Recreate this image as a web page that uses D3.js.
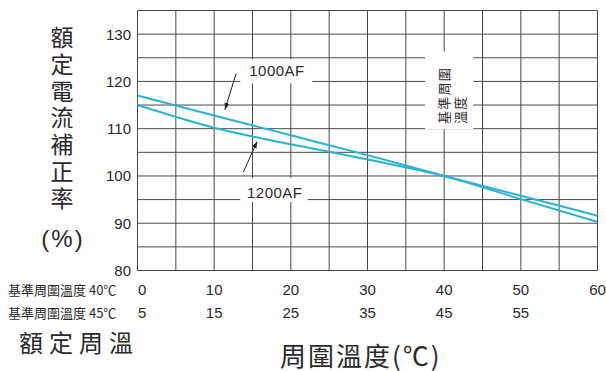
<!DOCTYPE html>
<html>
<head>
<meta charset="utf-8">
<script src="https://cdn.jsdelivr.net/npm/d3@7"></script>
<style>
  html, body { margin: 0; padding: 0; background: #fff; }
  svg { display: block; }
  text { font-family: "Liberation Sans", Arial, "Noto Sans CJK TC", sans-serif; fill: #2a2a2a; }
  .cjk { font-family: "Noto Sans CJK TC", "Noto Sans CJK SC", sans-serif; }
</style>
</head>
<body>
<svg id="chart" width="606" height="371"></svg>
<script>
// Ambient temperature (°C, referenced to 40°C) and correction factors (%)
const temps = [0, 10, 20, 30, 40, 50, 60];
const af1000 = [117, 112.8, 108.6, 104.4, 100, 95.8, 91.6];
const af1200 = [115, 110.2, 106.7, 103.5, 100, 95.1, 90.3];

const yTicks = [80, 90, 100, 110, 120, 130];
const xTicks40 = [0, 10, 20, 30, 40, 50, 60];
const xTicks45 = [5, 15, 25, 35, 45, 55];
const gridStep = 5;

const yTitle = "額定電流補正率";
const yUnit = "(%)";
const row40Label = "基準周圍溫度 40℃";
const row45Label = "基準周圍溫度 45℃";
const ratedLabel = "額定周溫";
const xTitle = "周圍溫度(℃)";
const refLines = ["基準周圍", "溫度"];

const svg = d3.select("#chart");

const x = d3.scaleLinear().domain([0, 60]).range([137.5, 597.5]);
const y = d3.scaleLinear().domain([80, 135]).range([270.5, 10.5]);

// Grid
const grid = svg.append("g").attr("stroke", "#4a4a4a").attr("stroke-width", 1);
grid.selectAll("line.v").data(d3.range(0, 60 + 0.1, gridStep)).join("line")
  .attr("x1", d => x(d)).attr("x2", d => x(d))
  .attr("y1", y(135)).attr("y2", y(80));
grid.selectAll("line.h").data(d3.range(80, 135 + 0.1, gridStep)).join("line")
  .attr("x1", x(0)).attr("x2", x(60))
  .attr("y1", d => y(d)).attr("y2", d => y(d));

// White patches behind annotations
const patches = [
  {x0: 13.4, x1: 22.8, y0: 119.6, y1: 124.7},
  {x0: 13.4, x1: 22.2, y0: 94.5, y1: 99.6},
  {x0: 37.5, x1: 43.8, y0: 109.9, y1: 126.3}
];
svg.append("g").selectAll("rect").data(patches).join("rect")
  .attr("x", d => x(d.x0)).attr("y", d => y(d.y1))
  .attr("width", d => x(d.x1) - x(d.x0)).attr("height", d => y(d.y0) - y(d.y1))
  .attr("fill", "#fff");

// Curves
const line = d3.line().x(d => x(d[0])).y(d => y(d[1])).curve(d3.curveMonotoneX);
[af1000, af1200].forEach(vals => {
  svg.append("path")
    .datum(temps.map((t, i) => [t, vals[i]]))
    .attr("d", line)
    .attr("fill", "none")
    .attr("stroke", "#2bb3d4")
    .attr("stroke-width", 2);
});

// Arrow marker
svg.append("defs").append("marker")
  .attr("id", "arr").attr("viewBox", "0 0 10 10").attr("refX", 10).attr("refY", 5)
  .attr("markerWidth", 7).attr("markerHeight", 7).attr("orient", "auto")
  .append("path").attr("d", "M0,1.5 L10,5 L0,8.5 Z").attr("fill", "#222");

const arrows = [
  {from: [12.85, 121.6], to: [11.4, 114.0]},
  {from: [13.8, 100.8], to: [15.6, 107.3]}
];
svg.append("g").selectAll("line").data(arrows).join("line")
  .attr("x1", d => x(d.from[0])).attr("y1", d => y(d.from[1]))
  .attr("x2", d => x(d.to[0])).attr("y2", d => y(d.to[1]))
  .attr("stroke", "#222").attr("stroke-width", 1)
  .attr("marker-end", "url(#arr)");

// Series labels
const seriesLabels = [
  {text: "1000AF", at: [18.2, 122.3]},
  {text: "1200AF", at: [17.9, 96.6]}
];
svg.append("g").selectAll("text").data(seriesLabels).join("text")
  .attr("x", d => x(d.at[0])).attr("y", d => y(d.at[1]))
  .attr("text-anchor", "middle").attr("dominant-baseline", "central")
  .attr("font-size", 15).attr("letter-spacing", 0.5)
  .text(d => d.text);

// Reference-temperature note, rotated
const note = svg.append("text").attr("class", "cjk")
  .attr("font-size", 13).attr("letter-spacing", 1.2)
  .attr("transform", `translate(${x(39.9)},${y(111.0)}) rotate(-90)`);
refLines.forEach((s, i) => {
  note.append("tspan").attr("x", 0).attr("dy", i === 0 ? 0 : 16)
    .attr("dominant-baseline", "central").text(s);
});

// Y tick labels
svg.append("g").selectAll("text").data(yTicks).join("text")
  .attr("x", 131).attr("y", d => y(d))
  .attr("text-anchor", "end").attr("dominant-baseline", "central")
  .attr("font-size", 15).text(d => d);

// Y title, set vertically
svg.append("text")
  .attr("class", "cjk")
  .attr("x", 62).attr("y", 25.5)
  .style("writing-mode", "vertical-rl")
  .attr("font-size", 23).attr("letter-spacing", 3.9)
  .text(yTitle);
svg.append("text")
  .attr("x", 63).attr("y", 238)
  .attr("text-anchor", "middle").attr("dominant-baseline", "central")
  .attr("font-size", 24).attr("letter-spacing", 2).text(yUnit);

// X tick rows
const row1Y = 289, row2Y = 312;
svg.append("g").selectAll("text").data(xTicks40).join("text")
  .attr("x", (d, i) => i === 0 ? x(d) + 0.5 : x(d))
  .attr("y", row1Y)
  .attr("text-anchor", (d, i) => i === 0 ? "start" : "middle")
  .attr("dominant-baseline", "central")
  .attr("font-size", 15).text(d => d);
svg.append("g").selectAll("text").data(xTicks45).join("text")
  .attr("x", (d, i) => i === 0 ? x(d - 5) + 0.5 : x(d - 5))
  .attr("y", row2Y)
  .attr("text-anchor", (d, i) => i === 0 ? "start" : "middle")
  .attr("dominant-baseline", "central")
  .attr("font-size", 15).text(d => d);

// Row captions
[[row40Label, row1Y], [row45Label, row2Y]].forEach(([s, yy]) => {
  svg.append("text").attr("class", "cjk")
    .attr("x", 8).attr("y", yy)
    .attr("dominant-baseline", "central")
    .attr("font-size", 13).text(s);
});

svg.append("text").attr("class", "cjk")
  .attr("x", 19).attr("y", 341)
  .attr("dominant-baseline", "central")
  .attr("font-size", 24).attr("letter-spacing", 6).text(ratedLabel);

svg.append("text").attr("class", "cjk")
  .attr("x", 280).attr("y", 354)
  .attr("dominant-baseline", "central")
  .attr("font-size", 26).attr("letter-spacing", 2).text(xTitle);
</script>
</body>
</html>
